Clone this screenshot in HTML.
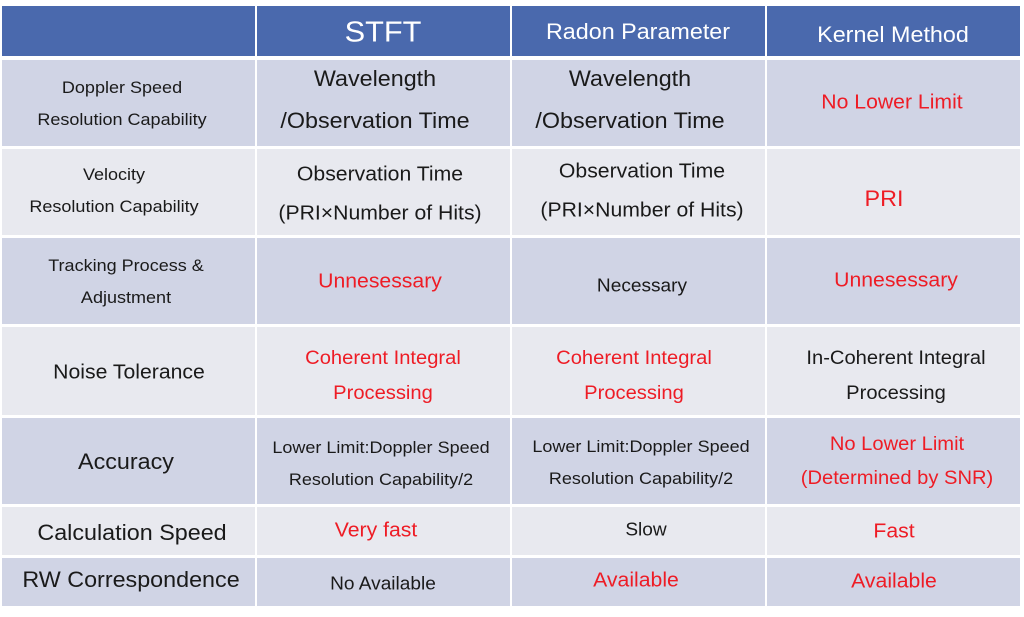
<!DOCTYPE html>
<html><head><meta charset="utf-8"><style>
body{margin:0;width:1024px;height:617px;background:#fff;position:relative;overflow:hidden;font-family:"Liberation Sans",sans-serif}
.b{position:absolute}
.t{position:absolute;white-space:nowrap;transform:translate(-50%,-50%) scaleX(1.06);color:#1a1a1a}
.r{color:#ee1c25}
.h{color:#fff}
</style></head><body>
<div class="b" style="left:2px;top:6px;width:1018px;height:50px;background:#4a69ad"></div>
<div class="b" style="left:2px;top:60px;width:1018px;height:86px;background:#d0d4e5"></div>
<div class="b" style="left:2px;top:149px;width:1018px;height:86px;background:#e8e9ef"></div>
<div class="b" style="left:2px;top:238px;width:1018px;height:86px;background:#d0d4e5"></div>
<div class="b" style="left:2px;top:327px;width:1018px;height:88px;background:#e8e9ef"></div>
<div class="b" style="left:2px;top:418px;width:1018px;height:86px;background:#d0d4e5"></div>
<div class="b" style="left:2px;top:507px;width:1018px;height:48px;background:#e8e9ef"></div>
<div class="b" style="left:2px;top:558px;width:1018px;height:48px;background:#d0d4e5"></div>
<div class="b" style="left:255px;top:0;width:2px;height:610px;background:#fff"></div>
<div class="b" style="left:510px;top:0;width:2px;height:610px;background:#fff"></div>
<div class="b" style="left:765px;top:0;width:2px;height:610px;background:#fff"></div>

<div class="t h" style="left:383px;top:33px;font-size:29px">STFT</div>
<div class="t h" style="left:638px;top:32px;font-size:22px">Radon Parameter</div>
<div class="t h" style="left:893px;top:35px;font-size:22px">Kernel Method</div>

<div class="t" style="left:122px;top:88px;font-size:17px">Doppler Speed</div>
<div class="t" style="left:122px;top:120px;font-size:17px">Resolution Capability</div>
<div class="t" style="left:375px;top:79px;font-size:22px">Wavelength</div>
<div class="t" style="left:375px;top:121px;font-size:22px">/Observation Time</div>
<div class="t" style="left:630px;top:79px;font-size:22px">Wavelength</div>
<div class="t" style="left:630px;top:121px;font-size:22px">/Observation Time</div>
<div class="t r" style="left:892px;top:103px;font-size:20px">No Lower Limit</div>

<div class="t" style="left:114px;top:175px;font-size:17px">Velocity</div>
<div class="t" style="left:114px;top:207px;font-size:17px">Resolution Capability</div>
<div class="t" style="left:380px;top:175px;font-size:20px">Observation Time</div>
<div class="t" style="left:380px;top:214px;font-size:20px">(PRI×Number of Hits)</div>
<div class="t" style="left:642px;top:172px;font-size:20px">Observation Time</div>
<div class="t" style="left:642px;top:211px;font-size:20px">(PRI×Number of Hits)</div>
<div class="t r" style="left:884px;top:199px;font-size:22px">PRI</div>

<div class="t" style="left:126px;top:266px;font-size:17px">Tracking Process &amp;</div>
<div class="t" style="left:126px;top:298px;font-size:17px">Adjustment</div>
<div class="t r" style="left:380px;top:282px;font-size:20px">Unnesessary</div>
<div class="t" style="left:642px;top:286px;font-size:18px">Necessary</div>
<div class="t r" style="left:896px;top:281px;font-size:20px">Unnesessary</div>

<div class="t" style="left:129px;top:373px;font-size:20px">Noise Tolerance</div>
<div class="t r" style="left:383px;top:359px;font-size:19px">Coherent Integral</div>
<div class="t r" style="left:383px;top:394px;font-size:19px">Processing</div>
<div class="t r" style="left:634px;top:359px;font-size:19px">Coherent Integral</div>
<div class="t r" style="left:634px;top:394px;font-size:19px">Processing</div>
<div class="t" style="left:896px;top:359px;font-size:19px">In-Coherent Integral</div>
<div class="t" style="left:896px;top:394px;font-size:19px">Processing</div>

<div class="t" style="left:126px;top:462px;font-size:22px">Accuracy</div>
<div class="t" style="left:381px;top:448px;font-size:17px">Lower Limit:Doppler Speed</div>
<div class="t" style="left:381px;top:480px;font-size:17px">Resolution Capability/2</div>
<div class="t" style="left:641px;top:447px;font-size:17px">Lower Limit:Doppler Speed</div>
<div class="t" style="left:641px;top:479px;font-size:17px">Resolution Capability/2</div>
<div class="t r" style="left:897px;top:445px;font-size:19px">No Lower Limit</div>
<div class="t r" style="left:897px;top:479px;font-size:19px">(Determined by SNR)</div>

<div class="t" style="left:132px;top:533px;font-size:22px">Calculation Speed</div>
<div class="t r" style="left:376px;top:531px;font-size:20px">Very fast</div>
<div class="t" style="left:646px;top:530px;font-size:18px">Slow</div>
<div class="t r" style="left:894px;top:532px;font-size:20px">Fast</div>

<div class="t" style="left:131px;top:580px;font-size:22px">RW Correspondence</div>
<div class="t" style="left:383px;top:584px;font-size:18px">No Available</div>
<div class="t r" style="left:636px;top:581px;font-size:20px">Available</div>
<div class="t r" style="left:894px;top:582px;font-size:20px">Available</div>
</body></html>
